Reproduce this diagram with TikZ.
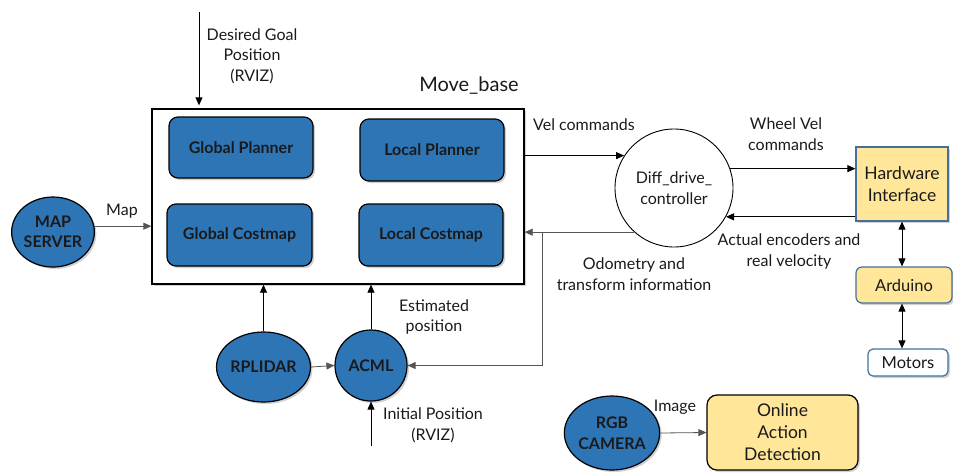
\documentclass[tikz,border=0pt]{standalone}
\usepackage{fontspec}
\setmainfont{Lato}
\usetikzlibrary{arrows.meta,shadows,shapes.geometric,calc}
\definecolor{nodeblue}{HTML}{2E75B6}
\definecolor{hwyellow}{HTML}{FFE699}
\definecolor{hwborder}{HTML}{41719C}
\definecolor{txt}{HTML}{1A1A1A}
\definecolor{linegray}{HTML}{555555}
\begin{document}
\begin{tikzpicture}[x=1pt,y=-1pt,
  >={Triangle[length=8pt,width=7pt]},
  shad/.style={drop shadow={shadow xshift=2pt,shadow yshift=-2pt,opacity=0.3,fill=black!60}},
  bluebox/.style={draw=black,line width=1.2pt,fill=nodeblue,rounded corners=9pt,
    font=\bfseries\fontsize{16}{19}\selectfont,text=txt,shad,inner sep=0pt},
  blueell/.style={ellipse,draw=black,line width=1.2pt,fill=nodeblue,inner sep=0pt,
    font=\bfseries\fontsize{16}{20.5}\selectfont,text=txt,align=center,shad},
  yelbox/.style={draw=hwborder,line width=1.2pt,fill=hwyellow,inner sep=0pt,
    font=\fontsize{17.5}{22}\selectfont,text=txt,align=center,shad},
  lbl/.style={font=\fontsize{16}{20.5}\selectfont,align=center,text=txt,inner sep=0pt},
  arr/.style={->,line width=0.8pt,draw=black},
  grayarr/.style={->,line width=0.8pt,draw=linegray},
  dblarr/.style={<->,line width=0.8pt,draw=black}]
\useasboundingbox (0,0) rectangle (953,472);

% Move_base container
\node[draw=black,line width=1.3pt,fill=white,minimum width=372pt,minimum height=175pt,shad,inner sep=0pt] (mb) at (338,196.5) {};
\node[lbl,font=\fontsize{20}{24}\selectfont] (mbl) at (469,86) {Move\_base};

\node[bluebox,minimum width=144pt,minimum height=61pt] (gp) at (241,147.5) {Global Planner};
\node[bluebox,minimum width=144pt,minimum height=62pt] (lp) at (432,150) {Local Planner};
\node[bluebox,minimum width=145pt,minimum height=62pt] (gc) at (239.5,235) {Global Costmap};
\node[bluebox,minimum width=144pt,minimum height=62pt] (lc) at (431,235) {Local Costmap};

% Other nodes
\node[blueell,minimum width=74pt,minimum height=70pt] (ms) at (53,232) {MAP\\SERVER};
\node[circle,draw=black,line width=0.9pt,fill=white,minimum size=118pt,inner sep=0pt,
  lbl] (diff) at (674,188) {Diff\_drive\_\\controller};
\node[yelbox,minimum width=92pt,minimum height=74pt] (hi) at (902,184) {Hardware\\Interface};
\node[yelbox,rounded corners=6pt,minimum width=96pt,minimum height=36pt,font=\fontsize{16.5}{18}\selectfont] (ard) at (904,285) {Arduino};
\node[yelbox,fill=white,rounded corners=5pt,minimum width=80pt,minimum height=27pt,font=\fontsize{16.5}{18}\selectfont] (mot) at (908,362.5) {Motors};
\node[blueell,minimum width=73pt,minimum height=70pt] (rp) at (263.5,367) {RPLIDAR};
\node[blueell,minimum width=72pt,minimum height=71pt] (ac) at (371,365.5) {ACML};
\node[blueell,minimum width=90pt,minimum height=74pt] (rgb) at (612,433) {RGB\\CAMERA};
\node[yelbox,draw=black,rounded corners=10pt,minimum width=151pt,minimum height=75pt] (oad) at (782.5,432.5) {Online\\Action\\Detection};

% Coordinates for free ends
\coordinate (dg) at (199,12);
\coordinate (br) at (542,232);
\coordinate (ip) at (371,446);

% Connectors
\draw[arr,shorten >=3pt] (dg) -- (dg |- mb.north);
\draw[grayarr] (ms.8) -- (ms.8 -| mb.west);
\draw[arr] (diff.147 -| mb.east) -- (diff.147);
\draw[arr] (diff.19) -- (diff.19 -| hi.west);
\draw[arr] (diff.-29 -| hi.west) -- (diff.-29);
\draw[grayarr] (diff.228) -- (diff.228 -| mb.east);
\draw[grayarr] (br) |- (ac.east);
\draw[dblarr] (hi.south) -- (hi.south |- ard.north);
\draw[dblarr] (ard.south -| hi.south) -- (mot.north -| hi.south);
\draw[arr] (rp.north) -- (rp.north |- mb.south);
\draw[arr] (ac.north) -- (ac.north |- mb.south);
\draw[grayarr] (rp.east) -- (ac.west);
\draw[arr] (ip) -- (ac.south);
\draw[grayarr] (rgb.east) -- (oad.west);

% Labels
\node[lbl] (l1) at (252,56) {Desired Goal\\Position\\(RVIZ)};
\node[lbl] (l2) at (122,211) {Map};
\node[lbl] (l3) at (584,125) {Vel commands};
\node[lbl] (l4) at (786,134) {Wheel Vel\\commands};
\node[lbl] (l5) at (789,251.5) {Actual encoders and\\real velocity};
\node[lbl] (l6) at (634,274) {Odometry and\\transform information};
\node[lbl] (l7) at (434,317) {Estimated\\position};
\node[lbl] (l8) at (433,425.5) {Initial Position\\(RVIZ)};
\node[lbl] (l9) at (675,407) {Image};
\end{tikzpicture}
\end{document}
